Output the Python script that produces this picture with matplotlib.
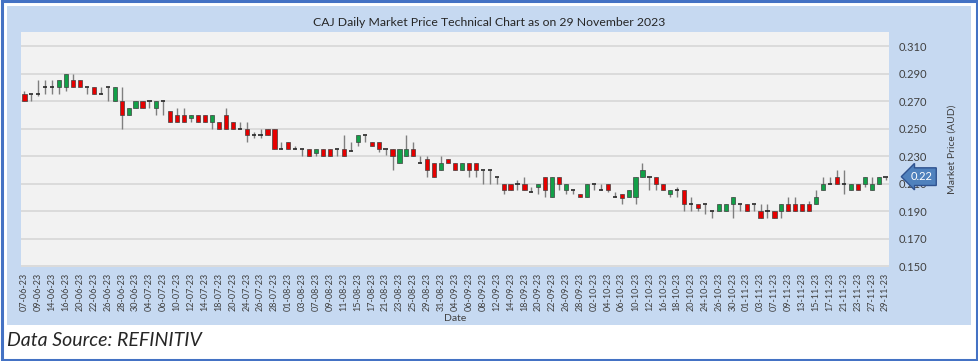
import numpy as np
import pandas as pd
import matplotlib
matplotlib.use('Agg')
import matplotlib.pyplot as plt
from matplotlib.patches import Rectangle
from matplotlib.transforms import blended_transform_factory

plt.rcParams['font.family'] = ['Lato', 'DejaVu Sans']

# trading days (ASX, King's Birthday 12-06 closed)
dates = pd.bdate_range('2023-06-07', '2023-11-29')
dates = dates[dates != pd.Timestamp('2023-06-12')]
date_labels = [d.strftime('%d-%m-%y') for d in dates]

# daily OHLC (AUD)
opens = [0.275, 0.275, 0.275, 0.280, 0.280, 0.280, 0.280, 0.285, 0.285, 0.280,
         0.280, 0.275, 0.280, 0.270, 0.270, 0.260, 0.265, 0.270, 0.270, 0.265,
         0.270, 0.2625, 0.260, 0.260, 0.258, 0.260, 0.260, 0.255, 0.255, 0.260,
         0.255, 0.250, 0.250, 0.245, 0.245, 0.250, 0.250, 0.235, 0.240, 0.235,
         0.235, 0.235, 0.2325, 0.235, 0.235, 0.235, 0.235, 0.234, 0.240, 0.245,
         0.240, 0.240, 0.235, 0.235, 0.225, 0.230, 0.235, 0.225, 0.2275, 0.225,
         0.220, 0.2275, 0.225, 0.220, 0.225, 0.225, 0.220, 0.220, 0.215, 0.210,
         0.210, 0.210, 0.210, 0.204, 0.2075, 0.215, 0.200, 0.215, 0.205, 0.205,
         0.2025, 0.200, 0.210, 0.205, 0.210, 0.200, 0.2025, 0.200, 0.200, 0.215,
         0.215, 0.215, 0.210, 0.2025, 0.205, 0.205, 0.195, 0.195, 0.195, 0.190,
         0.190, 0.190, 0.195, 0.195, 0.195, 0.195, 0.190, 0.190, 0.190, 0.190,
         0.195, 0.195, 0.195, 0.195, 0.195, 0.205, 0.210, 0.215, 0.210, 0.205,
         0.210, 0.210, 0.205, 0.210, 0.215]
highs = [0.2775, 0.275, 0.285, 0.285, 0.285, 0.285, 0.290, 0.290, 0.285, 0.280,
         0.280, 0.280, 0.280, 0.280, 0.280, 0.265, 0.270, 0.270, 0.270, 0.270,
         0.270, 0.2625, 0.265, 0.265, 0.260, 0.260, 0.260, 0.260, 0.255, 0.265,
         0.255, 0.255, 0.255, 0.2475, 0.250, 0.250, 0.250, 0.240, 0.240, 0.2375,
         0.235, 0.235, 0.235, 0.235, 0.235, 0.235, 0.245, 0.240, 0.245, 0.245,
         0.240, 0.240, 0.235, 0.235, 0.235, 0.245, 0.240, 0.230, 0.230, 0.225,
         0.230, 0.2275, 0.225, 0.225, 0.225, 0.225, 0.220, 0.220, 0.215, 0.210,
         0.210, 0.2125, 0.215, 0.2075, 0.210, 0.215, 0.215, 0.215, 0.210, 0.205,
         0.2025, 0.210, 0.210, 0.210, 0.210, 0.204, 0.2025, 0.205, 0.215, 0.225,
         0.215, 0.215, 0.210, 0.205, 0.2075, 0.205, 0.200, 0.195, 0.195, 0.190,
         0.195, 0.195, 0.200, 0.195, 0.195, 0.195, 0.195, 0.195, 0.190, 0.195,
         0.200, 0.200, 0.195, 0.1975, 0.205, 0.215, 0.215, 0.220, 0.220, 0.210,
         0.210, 0.215, 0.215, 0.215, 0.215]
lows = [0.270, 0.270, 0.274, 0.275, 0.275, 0.275, 0.2775, 0.280, 0.280, 0.275,
        0.275, 0.275, 0.270, 0.270, 0.250, 0.260, 0.265, 0.265, 0.265, 0.260,
        0.260, 0.255, 0.255, 0.255, 0.255, 0.255, 0.255, 0.250, 0.250, 0.250,
        0.250, 0.250, 0.240, 0.243, 0.243, 0.245, 0.235, 0.235, 0.235, 0.235,
        0.230, 0.230, 0.230, 0.230, 0.230, 0.230, 0.230, 0.234, 0.2375, 0.240,
        0.2375, 0.233, 0.231, 0.220, 0.225, 0.230, 0.230, 0.225, 0.215, 0.215,
        0.220, 0.225, 0.220, 0.220, 0.215, 0.215, 0.210, 0.210, 0.210, 0.2025,
        0.205, 0.205, 0.205, 0.204, 0.2025, 0.200, 0.200, 0.205, 0.2025, 0.2025,
        0.200, 0.200, 0.205, 0.205, 0.2035, 0.200, 0.195, 0.200, 0.195, 0.215,
        0.205, 0.205, 0.205, 0.200, 0.200, 0.190, 0.190, 0.190, 0.1875, 0.185,
        0.190, 0.190, 0.185, 0.190, 0.190, 0.190, 0.185, 0.185, 0.185, 0.185,
        0.190, 0.190, 0.190, 0.190, 0.195, 0.205, 0.210, 0.210, 0.2025, 0.205,
        0.205, 0.2075, 0.205, 0.210, 0.2125]
closes = [0.270, 0.275, 0.275, 0.280, 0.280, 0.285, 0.290, 0.280, 0.280, 0.280,
          0.275, 0.275, 0.280, 0.280, 0.260, 0.265, 0.270, 0.265, 0.270, 0.270,
          0.270, 0.255, 0.255, 0.255, 0.260, 0.255, 0.255, 0.260, 0.250, 0.250,
          0.250, 0.250, 0.245, 0.245, 0.245, 0.245, 0.235, 0.235, 0.235, 0.235,
          0.235, 0.230, 0.235, 0.230, 0.230, 0.235, 0.230, 0.234, 0.245, 0.245,
          0.2375, 0.235, 0.235, 0.230, 0.235, 0.235, 0.230, 0.225, 0.220, 0.215,
          0.225, 0.225, 0.220, 0.225, 0.220, 0.220, 0.220, 0.220, 0.215, 0.205,
          0.205, 0.210, 0.205, 0.204, 0.210, 0.205, 0.215, 0.210, 0.210, 0.205,
          0.200, 0.210, 0.210, 0.205, 0.205, 0.200, 0.1995, 0.205, 0.215, 0.220,
          0.215, 0.210, 0.205, 0.205, 0.205, 0.195, 0.195, 0.1925, 0.195, 0.190,
          0.195, 0.195, 0.200, 0.195, 0.190, 0.195, 0.185, 0.190, 0.185, 0.195,
          0.190, 0.190, 0.190, 0.190, 0.200, 0.210, 0.210, 0.210, 0.210, 0.210,
          0.205, 0.215, 0.210, 0.215, 0.215]

o = np.array(opens)
h = np.array(highs)
l = np.array(lows)
c = np.array(closes)
x = np.arange(len(dates))

fig = plt.figure(figsize=(9.79, 3.61), dpi=100)
fig.patch.set_facecolor('white')
fig.patches.append(Rectangle((0.0025, 0.004), 0.995, 0.992, transform=fig.transFigure,
                             fill=False, ec='#4472C4', lw=2.2, zorder=-2))
fig.patches.append(Rectangle((7 / 979, 36 / 361), 964 / 979, 319 / 361,
                             transform=fig.transFigure, fc='#C6D9F1', ec='none', zorder=-1))

ax = fig.add_axes([21 / 979, 94 / 361, 868 / 979, 235 / 361])
ax.set_facecolor('#F2F2F2')

up = c > o
down = c < o
flat = c == o

ax.vlines(x, l, h, color='#7F7F7F', lw=1, zorder=2)
ax.bar(x[up], c[up] - o[up], bottom=o[up], width=0.6, color='#12A048',
       edgecolor='#404040', lw=0.5, zorder=3)
ax.bar(x[down], o[down] - c[down], bottom=c[down], width=0.6, color='#E60000',
       edgecolor='#404040', lw=0.5, zorder=3)
ax.hlines(c[flat], x[flat] - 0.3, x[flat] + 0.3, color='#262626', lw=1.2, zorder=3)

ax.set_xlim(-0.5, len(x) - 0.5)
ax.set_ylim(0.1493, 0.3202)
yt = np.arange(0.15, 0.3101, 0.02)
ax.set_yticks(yt)
ax.set_yticklabels([f'{v:.3f}' for v in yt])
ax.yaxis.tick_right()
ax.yaxis.grid(True, color='#D9D9D9', lw=1.3)
ax.set_axisbelow(True)
ax.set_xticks(x[::2])
ax.set_xticklabels(date_labels[::2], rotation=90)
ax.tick_params(axis='x', length=0, pad=4, labelsize=6.5, labelcolor='#404040')
ax.tick_params(axis='y', length=0, pad=7, labelsize=8, labelcolor='#404040')
for s in ax.spines.values():
    s.set_visible(False)

ax.set_xlabel('Date', fontsize=7.5, color='#404040', labelpad=2)
ax.yaxis.set_label_position('right')
ax.set_ylabel('Market Price (AUD)', fontsize=7.5, color='#404040')
ax.yaxis.set_label_coords(1.067, 0.5)

# last price callout
last = closes[-1]
tr = blended_transform_factory(ax.transAxes, ax.transData)
ax.text(1.038, last, f'{last + 1e-9:.2f}', transform=tr, ha='center', va='center',
        fontsize=8, color='white', zorder=10, clip_on=False,
        bbox=dict(boxstyle='larrow,pad=0.3', fc='#4F81BD', ec='#2F528F', lw=1))

fig.text(0.5, 1 - 22 / 361, 'CAJ Daily Market Price Technical Chart as on 29 November 2023',
         ha='center', va='center', fontsize=8.8, color='#262626')
fig.text(7 / 979, 1 - 341 / 361, 'Data Source: REFINITIV', ha='left', va='center',
         fontsize=14, style='italic', color='#262626')

fig.savefig('out.png', dpi=100)
